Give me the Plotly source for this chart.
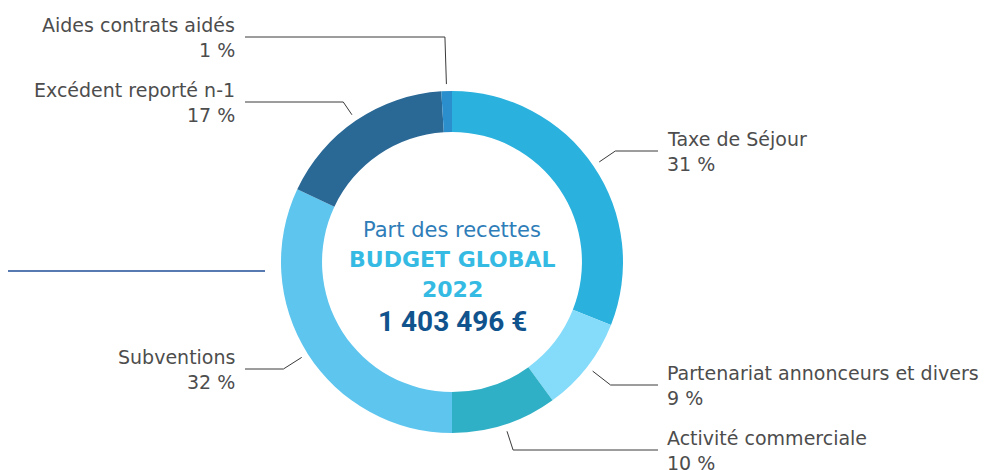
import math
import plotly.graph_objects as go

# page body adds an 8px margin, so the figure is 8px smaller than the window
OFF = 8
W, H = 998 - OFF, 470 - OFF

labels = ["Taxe de Séjour", "Partenariat annonceurs et divers", "Activité commerciale",
          "Subventions", "Excédent reporté n-1", "Aides contrats aidés"]
values = [31, 9, 10, 32, 17, 1]
pct_text = ["31 %", "9 %", "10 %", "32 %", "17 %", "1 %"]
colors = ["#2AB1DE", "#84DBFA", "#30B0C6", "#5EC5EE", "#2A6896", "#2B8FCE"]
# y of each leader's horizontal run (window px from top) and label side
leader_y = [151, 385, 450, 369, 102, 37]
side = ["right", "right", "right", "left", "left", "left"]

center_lines = ["Part des recettes", "BUDGET GLOBAL", "2022", "1 403 496 €"]

# pie geometry in window pixels
cx, cy, R = 452, 262, 171


def px(x):
    return (x - OFF) / W


def py(y):
    return 1 - (y - OFF) / H


dom_x = [px(cx - R), px(cx + R)]
dom_y = [py(cy + R), py(cy - R)]

fig = go.Figure(go.Pie(
    labels=labels, values=values, sort=False, direction="clockwise", rotation=0,
    hole=0.76, marker=dict(colors=colors, line=dict(width=0)),
    textinfo="none", showlegend=False, domain=dict(x=dom_x, y=dom_y),
))

font_family = "DejaVu Sans, sans-serif"
total = sum(values)
cum = 0
for lab, v, pt, ly, sd in zip(labels, values, pct_text, leader_y, side):
    mid = (cum + v / 2) / total * 2 * math.pi
    cum += v
    dx, dy = math.sin(mid), -math.cos(mid)
    x0, y0 = cx + 178 * dx, cy + 178 * dy
    t = (ly - y0) / dy
    x1 = x0 + t * dx
    x2 = 658 if sd == "right" else 245
    fig.add_shape(type="path", xref="paper", yref="paper",
                  path=f"M {px(x0)} {py(y0)} L {px(x1)} {py(ly)} L {px(x2)} {py(ly)}",
                  line=dict(color="#3a3a3a", width=1))
    tx = 665 if sd == "right" else 237
    anchor = "left" if sd == "right" else "right"
    for txt, yy in ((lab, ly - 12), (pt, ly + 13)):
        fig.add_annotation(x=px(tx), y=py(yy), xref="paper", yref="paper", text=txt,
                           showarrow=False, xanchor=anchor, yanchor="middle",
                           font=dict(family=font_family, size=19, color="#4d4d4d"))

# centre text
c_styles = [
    (230, 21, "#2E7DB8", False, font_family),
    (259, 22, "#35BBE3", True, font_family),
    (289, 22, "#35BBE3", True, font_family),
    (321, 28, "#11538D", True, "Roboto, DejaVu Sans, sans-serif"),
]
for txt, (yy, sz, col, bold, fam) in zip(center_lines, c_styles):
    fig.add_annotation(x=px(cx), y=py(yy), xref="paper", yref="paper",
                       text=f"<b>{txt}</b>" if bold else txt, showarrow=False,
                       xanchor="center", yanchor="middle",
                       font=dict(family=fam, size=sz, color=col))

# decorative rule on the left
fig.add_shape(type="line", xref="paper", yref="paper", x0=px(0), x1=px(265),
              y0=py(271), y1=py(271), line=dict(color="#1F4E99", width=1.5))

fig.update_layout(width=W, height=H, margin=dict(l=0, r=0, t=0, b=0),
                  paper_bgcolor="white", plot_bgcolor="white")
fig.write_html("out.html")
